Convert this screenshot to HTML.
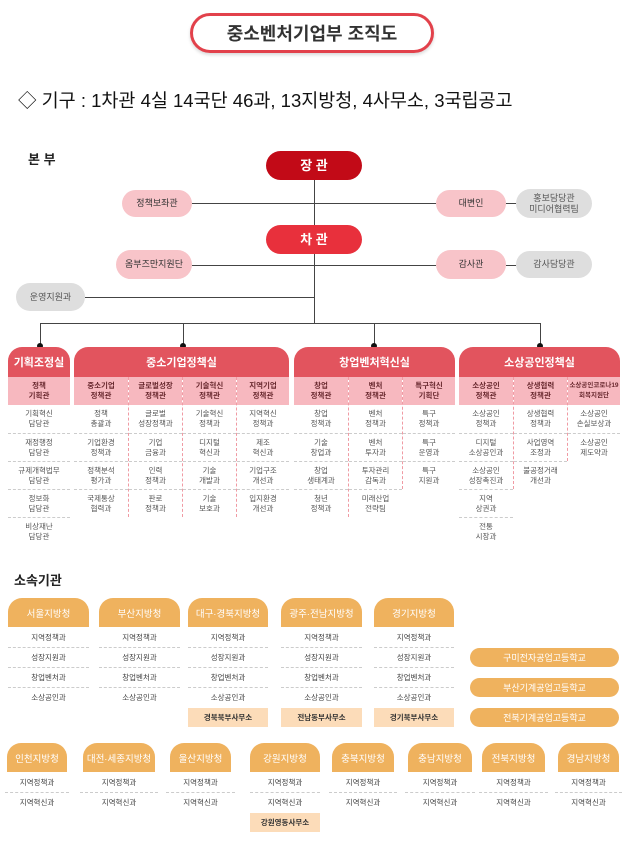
<!DOCTYPE html>
<html><head><meta charset="utf-8"><style>
*{margin:0;padding:0;box-sizing:border-box}
body{width:624px;height:846px;background:#fff;position:relative;overflow:hidden;font-family:"Liberation Sans","Noto Sans CJK KR",sans-serif;color:#333}
.a{position:absolute}
.pill{position:absolute;display:flex;align-items:center;justify-content:center;text-align:center;border-radius:15px;font-size:9px;line-height:11px}
.pk{background:#f8c4c9;color:#333}
.gr{background:#dedede;color:#555}
.ln{position:absolute;background:#444}
.dot{position:absolute;width:6px;height:6px;border-radius:3px;background:#111}
.dh{position:absolute;top:347px;height:30px;background:#e2545e;color:#fff;font-size:11px;font-weight:bold;display:flex;align-items:center;justify-content:center;border-radius:14px 14px 0 0}
.col{position:absolute;top:377px}
.col.b{border-left:1px dashed #f09aa3}
.sh{height:28px;background:#f7b8bf;font-size:7.5px;font-weight:bold;line-height:10px;display:flex;align-items:center;justify-content:center;text-align:center;color:#6a2a30}
.it{height:28px;font-size:7.5px;line-height:10px;display:flex;align-items:center;justify-content:center;text-align:center;color:#555;border-top:1px dashed #ccc}
.it:nth-child(2){border-top:none}
.oh{position:absolute;height:29px;background:#efb25e;color:#fff;font-size:9.5px;display:flex;align-items:center;justify-content:center;border-radius:14px 14px 0 0}
.oc{position:absolute}
.oi{height:20px;font-size:7.5px;display:flex;align-items:center;justify-content:center;color:#444;border-top:1px dashed #ccc}
.oi:first-child{border-top:none}
.of{height:19px;margin-top:1px;background:#fcdcb9;font-size:7.5px;font-weight:bold;display:flex;align-items:center;justify-content:center;color:#333}
.sc{position:absolute;left:470px;width:149px;height:19px;border-radius:10px;background:#efb25e;color:#fff;font-size:9px;display:flex;align-items:center;justify-content:center}
</style></head><body>

<div class="a" style="left:190px;top:13px;width:244px;height:40px;border:3px solid #e2414b;border-radius:20px;display:flex;align-items:center;justify-content:center;font-size:18px;font-weight:bold;color:#333;box-shadow:0 2px 3px rgba(0,0,0,.15)">중소벤처기업부 조직도</div>
<div class="a" style="left:18px;top:87px;font-size:18.5px;color:#111;white-space:nowrap">◇ 기구 : 1차관 4실 14국단 46과, 13지방청, 4사무소, 3국립공고</div>
<div class="a" style="left:28px;top:149px;font-size:13px;font-weight:bold;color:#222">본 부</div>

<div class="ln" style="left:314px;top:170px;width:1px;height:153px"></div>
<div class="ln" style="left:192px;top:203px;width:244px;height:1px"></div>
<div class="ln" style="left:506px;top:203px;width:10px;height:1px"></div>
<div class="ln" style="left:192px;top:265px;width:244px;height:1px"></div>
<div class="ln" style="left:506px;top:265px;width:10px;height:1px"></div>
<div class="ln" style="left:85px;top:297px;width:230px;height:1px"></div>
<div class="ln" style="left:40px;top:323px;width:501px;height:1px"></div>
<div class="ln" style="left:40px;top:323px;width:1px;height:24px"></div>
<div class="ln" style="left:183px;top:323px;width:1px;height:24px"></div>
<div class="ln" style="left:374px;top:323px;width:1px;height:24px"></div>
<div class="ln" style="left:540px;top:323px;width:1px;height:24px"></div>
<div class="dot" style="left:37px;top:343px"></div>
<div class="dot" style="left:180px;top:343px"></div>
<div class="dot" style="left:371px;top:343px"></div>
<div class="dot" style="left:537px;top:343px"></div>

<div class="pill" style="left:266px;top:151px;width:96px;height:29px;background:#c20a17;color:#fff;font-size:13px;font-weight:bold">장 관</div>
<div class="pill" style="left:266px;top:225px;width:96px;height:29px;background:#e8303c;color:#fff;font-size:13px;font-weight:bold">차 관</div>
<div class="pill pk" style="left:122px;top:190px;width:70px;height:27px">정책보좌관</div>
<div class="pill pk" style="left:436px;top:190px;width:70px;height:27px">대변인</div>
<div class="pill gr" style="left:516px;top:189px;width:76px;height:29px">홍보담당관<br>미디어협력팀</div>
<div class="pill pk" style="left:116px;top:250px;width:76px;height:29px">옴부즈만지원단</div>
<div class="pill pk" style="left:436px;top:250px;width:70px;height:29px">감사관</div>
<div class="pill gr" style="left:516px;top:251px;width:76px;height:27px">감사담당관</div>
<div class="pill gr" style="left:16px;top:283px;width:69px;height:28px">운영지원과</div>

<div class="dh" style="left:8px;width:62px">기획조정실</div>
<div class="dh" style="left:74px;width:215px">중소기업정책실</div>
<div class="dh" style="left:294px;width:161px">창업벤처혁신실</div>
<div class="dh" style="left:459px;width:161px">소상공인정책실</div>

<div class="col" style="left:8px;width:62px"><div class="sh">정책<br>기획관</div><div class="it">기획혁신<br>담당관</div><div class="it">재정행정<br>담당관</div><div class="it">규제개혁법무<br>담당관</div><div class="it">정보화<br>담당관</div><div class="it">비상재난<br>담당관</div></div>

<div class="col" style="left:74px;width:54px"><div class="sh">중소기업<br>정책관</div><div class="it">정책<br>총괄과</div><div class="it">기업환경<br>정책과</div><div class="it">정책분석<br>평가과</div><div class="it">국제통상<br>협력과</div></div>
<div class="col b" style="left:128px;width:54px"><div class="sh">글로벌성장<br>정책관</div><div class="it">글로벌<br>성장정책과</div><div class="it">기업<br>금융과</div><div class="it">인력<br>정책과</div><div class="it">판로<br>정책과</div></div>
<div class="col b" style="left:182px;width:54px"><div class="sh">기술혁신<br>정책관</div><div class="it">기술혁신<br>정책과</div><div class="it">디지털<br>혁신과</div><div class="it">기술<br>개발과</div><div class="it">기술<br>보호과</div></div>
<div class="col b" style="left:236px;width:53px"><div class="sh">지역기업<br>정책관</div><div class="it">지역혁신<br>정책과</div><div class="it">제조<br>혁신과</div><div class="it">기업구조<br>개선과</div><div class="it">입지환경<br>개선과</div></div>

<div class="col" style="left:294px;width:54px"><div class="sh">창업<br>정책관</div><div class="it">창업<br>정책과</div><div class="it">기술<br>창업과</div><div class="it">창업<br>생태계과</div><div class="it">청년<br>정책과</div></div>
<div class="col b" style="left:348px;width:54px"><div class="sh">벤처<br>정책관</div><div class="it">벤처<br>정책과</div><div class="it">벤처<br>투자과</div><div class="it">투자관리<br>감독과</div><div class="it">미래산업<br>전략팀</div></div>
<div class="col b" style="left:402px;width:53px"><div class="sh">특구혁신<br>기획단</div><div class="it">특구<br>정책과</div><div class="it">특구<br>운영과</div><div class="it">특구<br>지원과</div></div>

<div class="col" style="left:459px;width:54px"><div class="sh">소상공인<br>정책관</div><div class="it">소상공인<br>정책과</div><div class="it">디지털<br>소상공인과</div><div class="it">소상공인<br>성장촉진과</div><div class="it">지역<br>상권과</div><div class="it">전통<br>시장과</div></div>
<div class="col b" style="left:513px;width:54px"><div class="sh">상생협력<br>정책관</div><div class="it">상생협력<br>정책과</div><div class="it">사업영역<br>조정과</div><div class="it">불공정거래<br>개선과</div></div>
<div class="col b" style="left:567px;width:53px"><div class="sh" style="font-size:6.5px">소상공인코로나19<br>회복지원단</div><div class="it">소상공인<br>손실보상과</div><div class="it">소상공인<br>제도약과</div></div>

<div class="a" style="left:14px;top:570px;font-size:13px;font-weight:bold;color:#222">소속기관</div>

<div class="oh" style="left:8px;top:598px;width:81px">서울지방청</div>
<div class="oh" style="left:99px;top:598px;width:81px">부산지방청</div>
<div class="oh" style="left:188px;top:598px;width:80px">대구·경북지방청</div>
<div class="oh" style="left:281px;top:598px;width:81px">광주·전남지방청</div>
<div class="oh" style="left:374px;top:598px;width:80px">경기지방청</div>
<div class="oc" style="left:8px;top:627px;width:81px"><div class="oi">지역정책과</div><div class="oi">성장지원과</div><div class="oi">창업벤처과</div><div class="oi">소상공인과</div></div>
<div class="oc" style="left:99px;top:627px;width:81px"><div class="oi">지역정책과</div><div class="oi">성장지원과</div><div class="oi">창업벤처과</div><div class="oi">소상공인과</div></div>
<div class="oc" style="left:188px;top:627px;width:80px"><div class="oi">지역정책과</div><div class="oi">성장지원과</div><div class="oi">창업벤처과</div><div class="oi">소상공인과</div><div class="of">경북북부사무소</div></div>
<div class="oc" style="left:281px;top:627px;width:81px"><div class="oi">지역정책과</div><div class="oi">성장지원과</div><div class="oi">창업벤처과</div><div class="oi">소상공인과</div><div class="of">전남동부사무소</div></div>
<div class="oc" style="left:374px;top:627px;width:80px"><div class="oi">지역정책과</div><div class="oi">성장지원과</div><div class="oi">창업벤처과</div><div class="oi">소상공인과</div><div class="of">경기북부사무소</div></div>
<div class="sc" style="top:648px">구미전자공업고등학교</div>
<div class="sc" style="top:678px">부산기계공업고등학교</div>
<div class="sc" style="top:708px">전북기계공업고등학교</div>

<div class="oh" style="left:7px;top:743px;width:60px">인천지방청</div>
<div class="oh" style="left:83px;top:743px;width:72px">대전·세종지방청</div>
<div class="oh" style="left:170px;top:743px;width:61px">울산지방청</div>
<div class="oh" style="left:250px;top:743px;width:70px">강원지방청</div>
<div class="oh" style="left:332px;top:743px;width:62px">충북지방청</div>
<div class="oh" style="left:408px;top:743px;width:64px">충남지방청</div>
<div class="oh" style="left:482px;top:743px;width:63px">전북지방청</div>
<div class="oh" style="left:558px;top:743px;width:61px">경남지방청</div>
<div class="oc" style="left:5px;top:772px;width:64px"><div class="oi">지역정책과</div><div class="oi">지역혁신과</div></div>
<div class="oc" style="left:80px;top:772px;width:78px"><div class="oi">지역정책과</div><div class="oi">지역혁신과</div></div>
<div class="oc" style="left:166px;top:772px;width:69px"><div class="oi">지역정책과</div><div class="oi">지역혁신과</div></div>
<div class="oc" style="left:250px;top:772px;width:70px"><div class="oi">지역정책과</div><div class="oi">지역혁신과</div><div class="of">강원영동사무소</div></div>
<div class="oc" style="left:329px;top:772px;width:68px"><div class="oi">지역정책과</div><div class="oi">지역혁신과</div></div>
<div class="oc" style="left:405px;top:772px;width:70px"><div class="oi">지역정책과</div><div class="oi">지역혁신과</div></div>
<div class="oc" style="left:479px;top:772px;width:69px"><div class="oi">지역정책과</div><div class="oi">지역혁신과</div></div>
<div class="oc" style="left:555px;top:772px;width:67px"><div class="oi">지역정책과</div><div class="oi">지역혁신과</div></div>

</body></html>
